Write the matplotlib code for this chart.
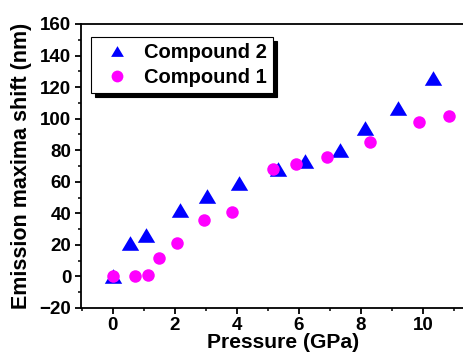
import matplotlib
matplotlib.use("Agg")
import matplotlib.pyplot as plt
from matplotlib.lines import Line2D
from matplotlib.ticker import MultipleLocator

# Data
c2_pressure = [0.0, 0.56, 1.09, 2.17, 3.05, 4.08, 5.32, 6.2, 7.33, 8.12, 9.18, 10.32]
c2_shift = [0, 21, 26, 42, 51, 59, 68, 73, 80, 94, 107, 126]
c1_pressure = [0.0, 0.71, 1.13, 1.5, 2.08, 2.94, 3.85, 5.16, 5.92, 6.91, 8.29, 9.88, 10.84]
c1_shift = [0, 0, 1, 12, 21, 36, 41, 68, 71, 76, 85, 98, 102]
series_labels = ["Compound 2", "Compound 1"]
x_ticks = [0, 2, 4, 6, 8, 10]
y_ticks = [-20, 0, 20, 40, 60, 80, 100, 120, 140, 160]

plt.rcParams['font.family'] = ['Liberation Sans', 'DejaVu Sans']
plt.rcParams['font.weight'] = 'bold'

W, H = 464, 354
fig = plt.figure(figsize=(W / 100, H / 100), dpi=100)
left = 81 / W
right_px = 112.7 + 12 * 31.03
bottom = (H - 308) / H
top = (H - 24) / H
ax = fig.add_axes([left, bottom, (right_px - 81) / W, top - bottom])

tri = [(-1, -0.84), (1, -0.84), (0, 0.84)]
ax.plot(c2_pressure, c2_shift, linestyle='none', marker=tri, markersize=12.5,
        color='#0000ff', markeredgewidth=0)
ax.plot(c1_pressure, c1_shift, linestyle='none', marker='o', markersize=9,
        color='#ff00ff', markeredgewidth=0)

ax.set_xlim(-1.02, 12)
ax.set_ylim(-20, 160)
ax.set_xticks(x_ticks)
ax.set_yticks(y_ticks)
ax.xaxis.set_minor_locator(MultipleLocator(1))
ax.yaxis.set_minor_locator(MultipleLocator(10))
ax.tick_params(axis='both', which='major', direction='out', length=4, width=1.3,
               labelsize=13.5, pad=3)
ax.tick_params(axis='x', which='major', pad=2.5)
ax.tick_params(axis='both', which='minor', direction='out', length=2.5, width=1.1)
for lab in ax.get_xticklabels() + ax.get_yticklabels():
    lab.set_fontweight('bold')
for s in ax.spines.values():
    s.set_linewidth(1.3)

ax.set_xlabel("Pressure (GPa)", fontsize=15.2, fontweight='bold')
ax.xaxis.set_label_coords(0.5, -0.088)
ax.set_ylabel("Emission maxima shift (nm)", fontsize=15.5, fontweight='bold')
ax.yaxis.set_label_coords(-0.121, 0.5)

handles = [
    Line2D([], [], linestyle='none', marker=tri, markersize=9.2, color='#0000ff', markeredgewidth=0),
    Line2D([], [], linestyle='none', marker='o', markersize=8.5, color='#ff00ff', markeredgewidth=0),
]
leg = ax.legend(handles, series_labels, loc='upper left',
                bbox_to_anchor=((91 - 81) / (right_px - 81), (308 - 37) / 284),
                prop={'size': 14.5, 'weight': 'bold'}, frameon=True, fancybox=False,
                shadow={'color': 'black', 'alpha': 1, 'ox': 3, 'oy': -3},
                borderpad=0.3, handletextpad=0.35, handlelength=2.0, labelspacing=0.28,
                borderaxespad=0, edgecolor='black')
leg.get_frame().set_linewidth(0.8)

fig.savefig("out.png", dpi=100)
